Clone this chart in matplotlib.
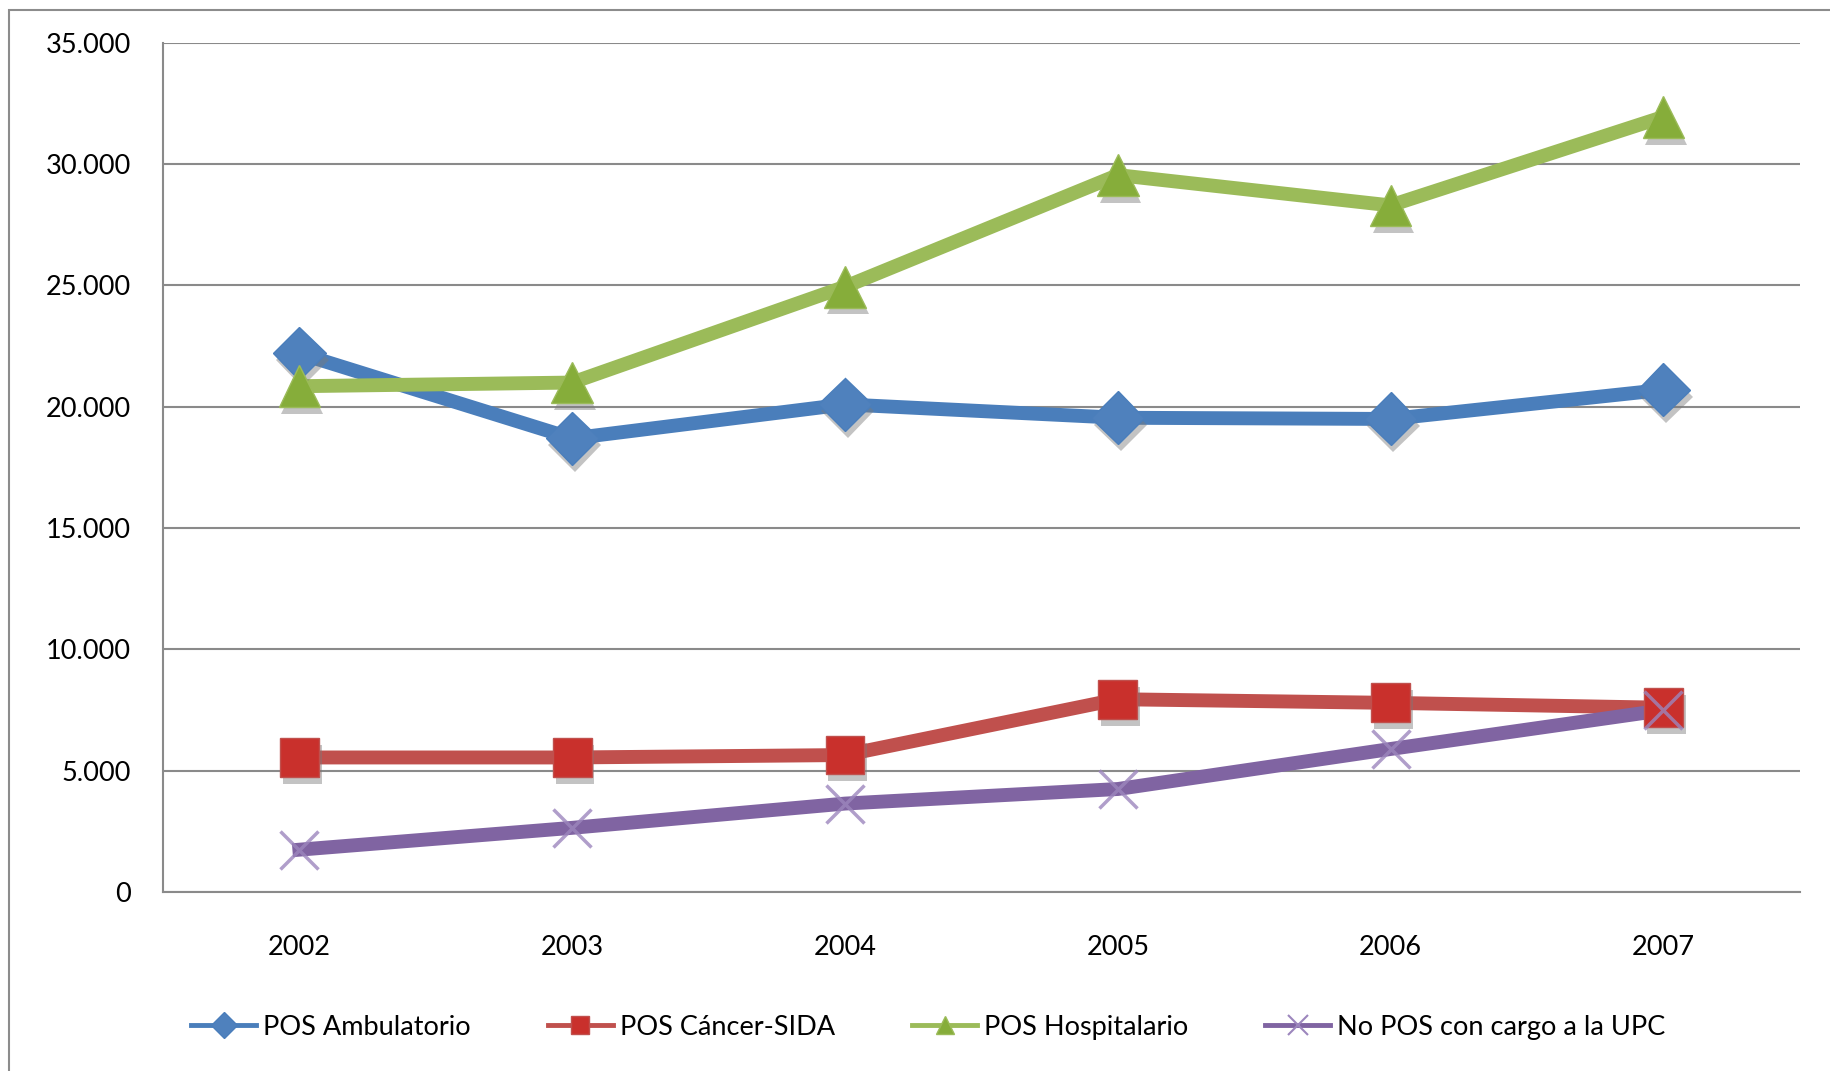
import matplotlib
matplotlib.use("Agg")
import matplotlib.pyplot as plt
from matplotlib.lines import Line2D
from matplotlib.patches import Rectangle
from matplotlib.ticker import FuncFormatter, MultipleLocator
import matplotlib.patheffects as pe

plt.rcParams['font.family'] = ['Lato', 'DejaVu Sans']

years = ['2002', '2003', '2004', '2005', '2006', '2007']
ambulatorio = [22200, 18700, 20100, 19550, 19500, 20700]
cancer_sida = [5550, 5550, 5650, 7950, 7800, 7600]
hospitalario = [20850, 21000, 24950, 29550, 28300, 31950]
no_pos_upc = [1750, 2650, 3650, 4250, 5900, 7500]

series = [
    ('POS Ambulatorio', ambulatorio, '#4A7EBB', '#4F81BD', 'D', 27),
    ('POS Cáncer-SIDA', cancer_sida, '#C0504D', '#C9302C', 's', 28),
    ('POS Hospitalario', hospitalario, '#9BBB59', '#86AD3A', '^', 30),
    ('No POS con cargo a la UPC', no_pos_upc, '#8064A2', '#9C86BD', 'x', 27),
]

fig = plt.figure(figsize=(18.31, 10.71), dpi=100)
ax = fig.add_axes([0.089, 0.167, 0.894, 0.793])

# outer chart frame
fig.patches.append(Rectangle((0.0049, -0.05), 1.2, 1.0407, transform=fig.transFigure,
                             fill=False, edgecolor='#8c8c8c', linewidth=1.5))

x = list(range(len(years)))
shadow = [pe.SimplePatchShadow(offset=(2, -5), shadow_rgbFace='#7a7a7a', alpha=0.45), pe.Normal()]
handles = []
for label, vals, lc, mc, mk, ms in series:
    ax.plot(x, vals, color=lc, linewidth=10, solid_joinstyle='miter', zorder=3)
    if mk == 'x':
        ax.plot(x, vals, linestyle='none', marker=mk, markersize=ms, markeredgewidth=2.5,
                color=mc, alpha=0.8, zorder=4)
    else:
        ax.plot(x, vals, linestyle='none', marker=mk, markersize=ms, markerfacecolor=mc,
                markeredgecolor=lc, markeredgewidth=1, zorder=4, path_effects=shadow)
    handles.append(Line2D([0], [0], color=lc, linewidth=3.5, marker=mk,
                          markersize=13 if mk != 'x' else 15,
                          markerfacecolor=mc, markeredgecolor=lc if mk != 'x' else mc,
                          markeredgewidth=1 if mk != 'x' else 1.5, label=label))

ax.set_xlim(-0.5, 5.5)
ax.set_ylim(0, 35000)
ax.yaxis.set_major_locator(MultipleLocator(5000))
ax.yaxis.set_major_formatter(FuncFormatter(lambda v, p: f'{int(v):,}'.replace(',', '.')))
ax.set_xticks(x)
ax.set_xticklabels(years)
ax.grid(axis='y', color='#8a8a8a', linewidth=1.5, zorder=0)
ax.set_axisbelow(True)
for s in ['top', 'right']:
    ax.spines[s].set_visible(False)
for s in ['left', 'bottom']:
    ax.spines[s].set_color('#8a8a8a')
    ax.spines[s].set_linewidth(1.5)
ax.tick_params(axis='both', length=0, labelsize=19.5, colors='black')
ax.tick_params(axis='y', pad=23)
ax.tick_params(axis='x', pad=31)

fig.legend(handles=handles, loc='center left', bbox_to_anchor=(0.1045, 0.041), ncol=4,
           frameon=False, fontsize=19.5, borderpad=0, borderaxespad=0,
           handlelength=2.4, handletextpad=0.25, columnspacing=2.85)

fig.savefig('out.png', dpi=100)
